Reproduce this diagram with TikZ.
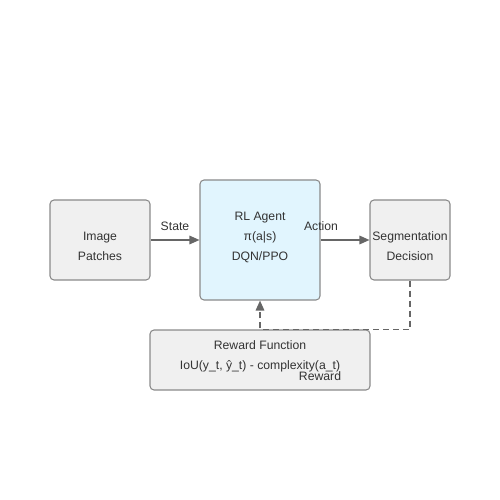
\documentclass[tikz,border=0pt]{standalone}
\usepackage{fontspec}
\setmainfont{Liberation Sans}
\usetikzlibrary{positioning}
\usetikzlibrary{arrows.meta}
\definecolor{boxgray}{HTML}{F0F0F0}
\definecolor{agentblue}{HTML}{E1F5FE}
\definecolor{rimgray}{HTML}{8A8A8A}
\definecolor{linegray}{HTML}{666666}
\definecolor{textgray}{HTML}{333333}
\tikzset{
  block/.style={draw=rimgray, fill=boxgray, rounded corners=0.08cm, line width=0.6pt},
  txt/.style={align=center, text=textgray, inner sep=0pt},
  flow/.style={->, draw=linegray, line width=0.9pt},
  feedback/.style={flow, dash pattern=on 0.12cm off 0.08cm}
}

\begin{document}
\begin{tikzpicture}[
x=1cm, y=1cm,
font=\fontsize{6.95}{11.4}\selectfont,
>={Triangle[length=0.2cm,width=0.17cm]}   % Pfeilspitzen
]
\useasboundingbox (0,0) rectangle (10,-10);

% Kaesten
\node[block, minimum width=2cm, minimum height=1.6cm] (patches) at (2,-4.8) {};
\node[block, fill=agentblue, minimum width=2.4cm, minimum height=2.4cm] (agent) at (5.2,-4.8) {};
\node[block, minimum width=1.6cm, minimum height=1.6cm] (decision) at (8.2,-4.8) {};
\node[block, minimum width=4.4cm, minimum height=1.2cm] (reward) at (5.2,-7.2) {};

% Texte
\node[txt] (patchestext) at ([yshift=-0.12cm]patches.center) {Image\\Patches};
\node[txt] (agenttext) at ([yshift=0.06cm]agent.center) {RL Agent\\π(a|s)\\DQN/PPO};
\node[txt] (decisiontext) at ([yshift=-0.12cm]decision.center) {Segmentation\\Decision};
\node[txt] (rewardtext) at ([yshift=0.08cm]reward.center) {Reward Function\\IoU(y\_t, ŷ\_t) - complexity(a\_t)};

% Pfeile
\draw[flow] (patches) -- (agent) node[midway, above=0.18cm, txt] (statelabel) {State};
\draw[flow] (agent) -- (decision);
\node[txt] (actionlabel) at (6.42,-4.52) {Action};

% Rueckkopplung
\coordinate (turnright) at (decision.south |- reward.north);
\coordinate (turnleft) at (agent.south |- reward.north);
\draw[feedback] (decision.south) -- (turnright) -- (turnleft) -- (agent.south);
\node[txt] (rewardlabel) at (6.4,-7.52) {Reward};
\end{tikzpicture}
\end{document}
